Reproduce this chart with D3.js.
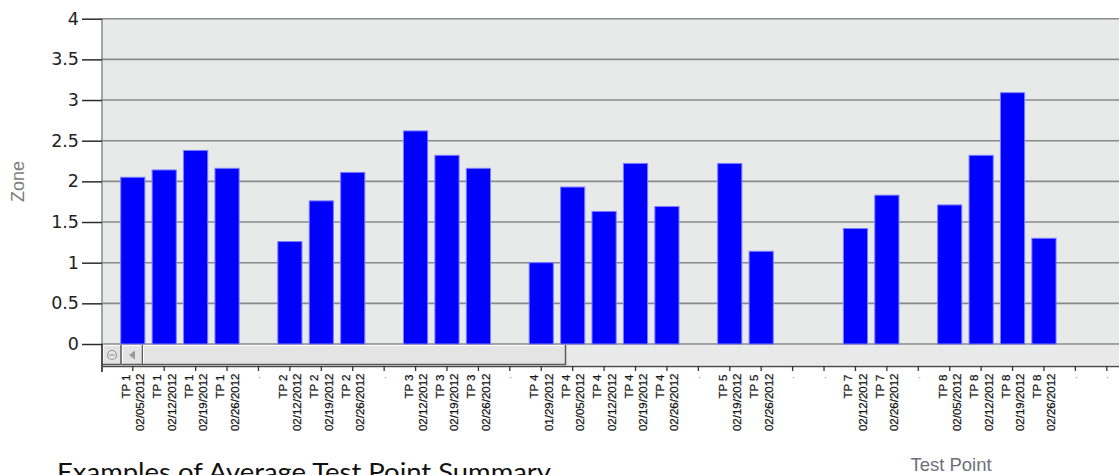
<!DOCTYPE html>
<html>
<head>
<meta charset="utf-8">
<script src="https://d3js.org/d3.v7.min.js"></script>
<style>
  html, body { margin: 0; padding: 0; background: #ffffff; overflow: hidden; }
  svg { display: block; }
</style>
</head>
<body>
<svg id="chart" width="1119" height="475"></svg>
<script>
// ---- data ----
const testPoints = ["TP 1","TP 1","TP 1","TP 1","",
                    "TP 2","TP 2","TP 2","",
                    "TP 3","TP 3","TP 3","",
                    "TP 4","TP 4","TP 4","TP 4","TP 4","",
                    "TP 5","TP 5","","",
                    "TP 7","TP 7","",
                    "TP 8","TP 8","TP 8","TP 8","",""];
const dates = ["02/05/2012","02/12/2012","02/19/2012","02/26/2012","",
               "02/12/2012","02/19/2012","02/26/2012","",
               "02/12/2012","02/19/2012","02/26/2012","",
               "01/29/2012","02/05/2012","02/12/2012","02/19/2012","02/26/2012","",
               "02/19/2012","02/26/2012","","",
               "02/12/2012","02/26/2012","",
               "02/05/2012","02/12/2012","02/19/2012","02/26/2012","",""];
const zoneValues = [2.05, 2.14, 2.38, 2.16, null,
                    1.26, 1.76, 2.11, null,
                    2.62, 2.32, 2.16, null,
                    1.00, 1.93, 1.63, 2.22, 1.69, null,
                    2.22, 1.14, null, null,
                    1.42, 1.83, null,
                    1.71, 2.32, 3.09, 1.30, null, null];
const yTicks = [0, 0.5, 1, 1.5, 2, 2.5, 3, 3.5, 4];
const yTickLabels = ["0","0.5","1","1.5","2","2.5","3","3.5","4"];
const yTitle = "Zone";
const xTitle = "Test Point";
const caption = "Examples of Average Test Point Summary";

// ---- layout ----
const W = 1119, H = 475;
const plotLeft = 102, plotTop = 18.7, zeroY = 344;
const axisY = 366;
const step = 31.42;
const n = zoneValues.length;
const padInner = 0.2, padOuter = 0.58;

const svg = d3.select("#chart");
const idx = d3.range(n);

const x = d3.scaleBand()
  .domain(idx)
  .range([plotLeft, plotLeft + step * (n - padInner + 2 * padOuter)])
  .paddingInner(padInner)
  .paddingOuter(padOuter);

const y = d3.scaleLinear().domain([0, 4]).range([zeroY, plotTop]);

// plot background
svg.append("rect")
  .attr("x", plotLeft).attr("y", y(4))
  .attr("width", W - plotLeft).attr("height", zeroY - y(4))
  .attr("fill", "#e8e9e9");

// gridlines
svg.append("g").selectAll("line")
  .data(yTicks)
  .join("line")
  .attr("x1", plotLeft).attr("x2", W)
  .attr("y1", d => y(d)).attr("y2", d => y(d))
  .attr("stroke", "#8a8a8a")
  .attr("stroke-width", 1.6);

// bars
svg.append("g").selectAll("rect")
  .data(idx.filter(i => zoneValues[i] != null))
  .join("rect")
  .attr("x", i => x(i) + 0.5)
  .attr("width", x.bandwidth() - 1)
  .attr("y", i => y(zoneValues[i]))
  .attr("height", i => zeroY - y(zoneValues[i]))
  .attr("fill", "#0000ff")
  .attr("stroke", "#7b7bff")
  .attr("stroke-width", 1);

// scrollbar area
const sbTop = 345, sbBot = 365;
const sb = svg.append("g");
sb.append("rect").attr("x", plotLeft).attr("y", sbTop).attr("width", W - plotLeft).attr("height", sbBot - sbTop)
  .attr("fill", "#e9e9e9");
function raisedBox(x0, x1, fill) {
  sb.append("rect").attr("x", x0).attr("y", sbTop).attr("width", x1 - x0).attr("height", sbBot - sbTop).attr("fill", fill);
  sb.append("path").attr("d", `M${x0 + 0.5},${sbBot - 1}V${sbTop + 0.5}H${x1 - 1}`).attr("fill", "none").attr("stroke", "#ffffff");
  sb.append("path").attr("d", `M${x0},${sbBot - 0.5}H${x1 - 0.5}V${sbTop}`).attr("fill", "none").attr("stroke", "#5a5a5a").attr("stroke-width", 1.5);
}
raisedBox(plotLeft + 0.5, 121.5, "#e3e3e3");
raisedBox(122, 143, "#e3e3e3");
raisedBox(143, 566, "#e4e4e4");
sb.append("circle").attr("cx", 112).attr("cy", 355).attr("r", 4.5).attr("fill", "none").attr("stroke", "#9a9a9a").attr("stroke-width", 1.2);
sb.append("line").attr("x1", 109.5).attr("x2", 114.5).attr("y1", 355).attr("y2", 355).attr("stroke", "#9a9a9a").attr("stroke-width", 1.2);
sb.append("path").attr("d", "M129,355L135,350.5V359.5Z").attr("fill", "#9a9a9a");

// x axis
const xAxis = d3.axisBottom(x).tickSize(5).tickSizeOuter(0).tickFormat("");
const gx = svg.append("g").attr("transform", `translate(0,${axisY})`).call(xAxis);
gx.select(".domain").attr("stroke", "#4a4a4a").attr("stroke-width", 1.3);
gx.selectAll(".tick line").attr("stroke", "#333").attr("stroke-width", 1.3);

// y axis line (left border, extends to below the x axis)
svg.append("line")
  .attr("x1", plotLeft).attr("x2", plotLeft)
  .attr("y1", y(4) - 0.5).attr("y2", axisY + 6)
  .attr("stroke", "#8a8a8a").attr("stroke-width", 1.5);
svg.append("line")
  .attr("x1", plotLeft).attr("x2", plotLeft)
  .attr("y1", zeroY).attr("y2", axisY + 6)
  .attr("stroke", "#333").attr("stroke-width", 1.5);

// x tick labels (rotated, two lines)
const labelG = svg.append("g")
  .attr("font-family", "'Liberation Sans', Arial, sans-serif")
  .attr("font-size", 11.5)
  .attr("fill", "#141414")
  .attr("stroke", "#141414")
  .attr("stroke-width", 0.25);
idx.forEach(i => {
  const cx = x(i) + x.bandwidth() / 2;
  if (testPoints[i] === "") {
    labelG.append("text")
      .attr("transform", `translate(${cx + 1.5},376) rotate(-90)`)
      .attr("text-anchor", "end")
      .attr("fill", "#6fa8dc")
      .attr("stroke", "none")
      .text(".");
  } else {
    labelG.append("text")
      .attr("transform", `translate(${cx - 3},374.5) rotate(-90)`)
      .attr("text-anchor", "end")
      .text(testPoints[i]);
    labelG.append("text")
      .attr("transform", `translate(${cx + 11.5},373.5) rotate(-90)`)
      .attr("text-anchor", "end")
      .text(dates[i]);
  }
});

// y axis ticks + labels
const yAxis = d3.axisLeft(y).tickValues(yTicks).tickSize(20).tickPadding(3)
  .tickFormat((d, i) => yTickLabels[i]);
const gy = svg.append("g").attr("transform", `translate(${plotLeft},0)`).call(yAxis);
gy.select(".domain").remove();
gy.selectAll(".tick line").attr("stroke", "#2b2b2b").attr("stroke-width", 1.5);
gy.selectAll(".tick text")
  .attr("font-family", "'DejaVu Sans', Verdana, sans-serif")
  .attr("font-size", 17.5)
  .attr("fill", "#222");

// axis titles
svg.append("text")
  .attr("transform", "translate(24,181.5) rotate(-90)")
  .attr("text-anchor", "middle")
  .attr("font-family", "'Liberation Sans', Arial, sans-serif")
  .attr("font-size", 18)
  .attr("fill", "#7d7d7d")
  .text(yTitle);

svg.append("text")
  .attr("x", 951).attr("y", 471)
  .attr("text-anchor", "middle")
  .attr("font-family", "'Liberation Sans', Arial, sans-serif")
  .attr("font-size", 18.5)
  .attr("fill", "#6f6f7a")
  .text(xTitle);

// caption (partly below the bottom edge, as in the reference)
svg.append("text")
  .attr("x", 57).attr("y", 481)
  .attr("font-family", "Lato, 'Open Sans', sans-serif")
  .attr("font-size", 25)
  .attr("fill", "#111")
  .attr("textLength", 494)
  .attr("lengthAdjust", "spacingAndGlyphs")
  .text(caption);
</script>
</body>
</html>
